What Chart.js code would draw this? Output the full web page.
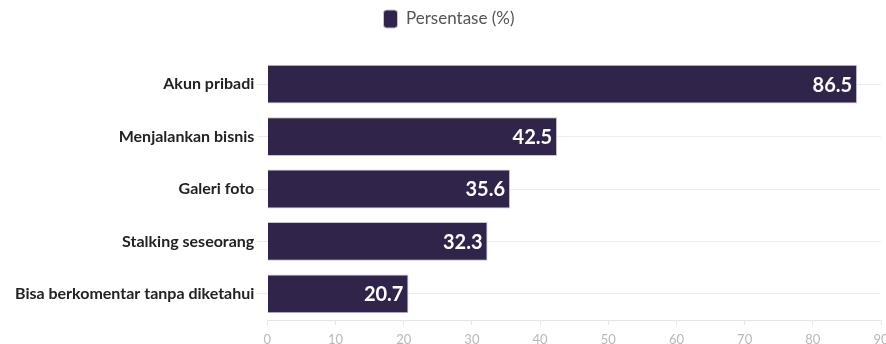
<!DOCTYPE html>
<html>
<head>
<meta charset="utf-8">
<script src="https://cdn.jsdelivr.net/npm/chart.js@4.4.0/dist/chart.umd.min.js"></script>
<style>
  html, body { margin: 0; padding: 0; background: #fff; }
  #wrap { width: 886px; height: 344px; }
</style>
</head>
<body>
<div id="wrap"><canvas id="chart"></canvas></div>
<script>
const categories = ['Akun pribadi', 'Menjalankan bisnis', 'Galeri foto', 'Stalking seseorang', 'Bisa berkomentar tanpa diketahui'];
const persentase = [86.5, 42.5, 35.6, 32.3, 20.7];
const xTicks = [0, 10, 20, 30, 40, 50, 60, 70, 80, 90];

// values drawn inside the end of each bar
const barLabels = {
    id: 'barLabels',
    afterDatasetsDraw(chart) {
        const ctx = chart.ctx;
        const meta = chart.getDatasetMeta(0);
        ctx.save();
        ctx.fillStyle = '#ffffff';
        ctx.font = 'bold 20px Lato';
        ctx.textAlign = 'right';
        ctx.textBaseline = 'middle';
        meta.data.forEach((bar, i) => {
            ctx.fillText(persentase[i].toFixed(1), bar.x - 5, bar.y + 1);
        });
        ctx.restore();
    }
};

// extra room under the legend
const legendGap = {
    id: 'legendGap',
    beforeInit(chart) {
        const fit = chart.legend.fit;
        chart.legend.fit = function () {
            fit.bind(chart.legend)();
            this.height += 20;
        };
    }
};

new Chart(document.getElementById('chart'), {
    type: 'bar',
    data: {
        labels: categories,
        datasets: [{
            label: 'Persentase (%)',
            data: persentase,
            backgroundColor: '#30244a',
            borderColor: '#c9c4d4',
            borderWidth: 1,
            barPercentage: 0.74,
            categoryPercentage: 1
        }]
    },
    options: {
        indexAxis: 'y',
        responsive: true,
        maintainAspectRatio: false,
        animation: false,
        layout: { padding: { top: 0, right: 0, left: 12, bottom: 0 } },
        plugins: {
            legend: {
                position: 'top',
                labels: {
                    boxWidth: 14,
                    boxHeight: 18,
                    useBorderRadius: true,
                    borderRadius: 3,
                    color: '#555',
                    font: { family: 'Lato', size: 17 },
                    padding: 10
                }
            },
            tooltip: { enabled: false }
        },
        scales: {
            x: {
                min: 0,
                max: 90,
                afterBuildTicks(axis) { axis.ticks = xTicks.map(v => ({ value: v })); },
                afterFit(axis) { axis.height = 24; axis.paddingRight = 5; },
                grid: { drawOnChartArea: false, color: '#e6e6e6', tickLength: 5 },
                border: { color: '#e6e6e6' },
                ticks: { color: '#b8b8b8', font: { family: 'Lato', size: 13 }, padding: 7 }
            },
            y: {
                grid: { color: '#ececec', tickLength: 10, offset: false },
                border: { display: false },
                ticks: { color: '#222', font: { family: 'Lato', size: 16, weight: 'bold' }, padding: 3 }
            }
        }
    },
    plugins: [barLabels, legendGap]
});
</script>
</body>
</html>
